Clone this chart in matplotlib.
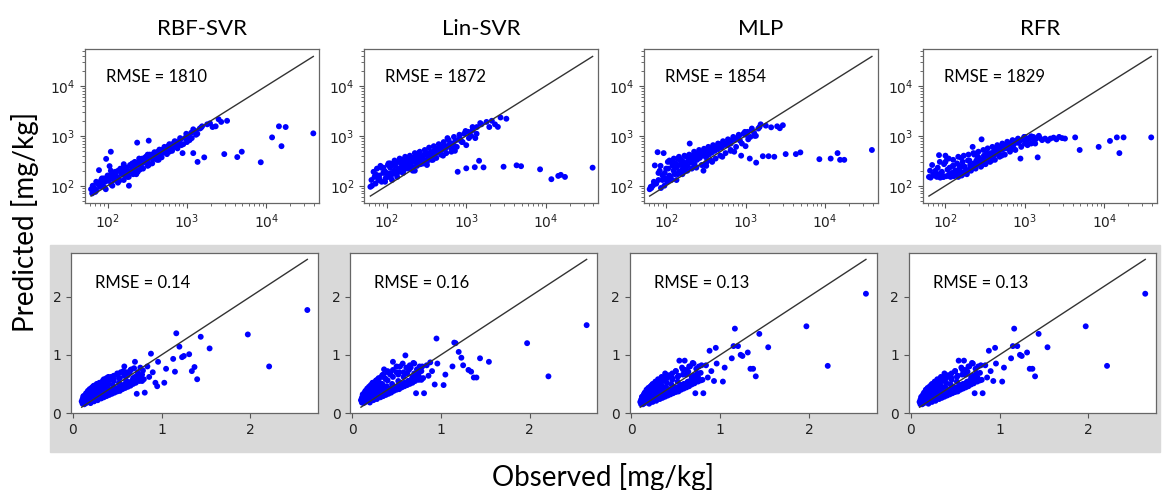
import matplotlib.pyplot as plt
from matplotlib.patches import Rectangle

models = ['RBF-SVR', 'Lin-SVR', 'MLP', 'RFR']
rmse_top = ['1810', '1872', '1854', '1829']
rmse_bot = ['0.14', '0.16', '0.13', '0.13']

# top row: observed vs predicted in mg/kg (log axes)
obs_top = [62, 65, 68, 72, 75, 78, 80, 83, 86, 90,
           93, 96, 100, 103, 106, 110, 113, 116, 120, 124,
           128, 132, 136, 140, 145, 150, 155, 160, 165, 170,
           175, 180, 186, 192, 198, 205, 212, 220, 228, 236,
           245, 255, 265, 275, 285, 295, 305, 318, 330, 345,
           360, 375, 390, 410, 430, 450, 470, 495, 520, 550,
           580, 610, 650, 690, 730, 780, 830, 880, 940, 1000,
           1060, 1130, 1200, 1280, 1360, 1450, 1550, 1650, 1800, 1950,
           2100, 2300, 2500, 2700, 2950, 3200, 4300, 4900, 8500, 11800,
           14400, 15500, 17500, 39000,
           70, 85, 95, 105, 115, 125, 135, 145, 160, 170,
           185, 195, 210, 225, 240, 260, 280, 300, 320, 340,
           365, 390, 420, 450, 480, 520, 560, 600, 650, 700,
           760, 820, 900, 980, 1080, 1200, 1350, 1500, 250, 150,
           64, 72, 80, 90, 100, 112, 125, 140, 158, 178,
           200, 225, 255, 290, 330, 380, 440, 510, 600, 720,
           850, 1000, 1150, 1300, 110, 160, 230, 320, 460, 650]
pred_top_rbf = [85, 100, 90, 120, 110, 205, 95, 130, 115, 140,
                120, 345, 150, 125, 247, 480, 140, 170, 130, 160,
                185, 150, 200, 130, 220, 170, 190, 240, 160, 210,
                230, 180, 100, 260, 200, 280, 230, 300, 210, 730,
                270, 320, 240, 350, 290, 330, 380, 300, 800, 360,
                420, 340, 440, 400, 480, 430, 520, 470, 560, 520,
                620, 560, 680, 640, 760, 700, 850, 450, 900, 1000,
                950, 1150, 450, 1250, 300, 1400, 1550, 370, 1700, 1780,
                1500, 1550, 2150, 1900, 430, 2000, 375, 480, 295, 930,
                1550, 620, 1500, 1120,
                75, 140, 85, 160, 100, 190, 115, 200, 130, 230,
                150, 250, 170, 290, 190, 330, 220, 370, 250, 420,
                280, 470, 330, 530, 370, 600, 430, 680, 500, 780,
                560, 900, 680, 1100, 820, 1350, 1100, 1450, 350, 210,
                70, 80, 115, 95, 160, 105, 180, 125, 210, 150,
                190, 260, 210, 310, 260, 420, 330, 460, 480, 600,
                650, 750, 900, 1050, 200, 270, 170, 420, 380, 560]
pred_top_lin = [95, 100, 190, 110, 220, 130, 160, 250, 120, 180,
                200, 140, 170, 260, 150, 230, 180, 130, 270, 200,
                250, 170, 300, 220, 190, 280, 240, 330, 210, 260,
                300, 230, 360, 250, 280, 330, 200, 370, 300, 290,
                400, 330, 270, 380, 350, 420, 320, 450, 380, 400,
                470, 410, 500, 440, 550, 480, 600, 520, 650, 560,
                900, 610, 700, 650, 800, 190, 900, 750, 1100, 223,
                1200, 1000, 1300, 235, 1500, 316, 1700, 233, 1900, 1500,
                2000, 1700, 1510, 2330, 240, 2200, 256, 246, 213, 135,
                157, 165, 150, 230,
                150, 230, 120, 280, 170, 320, 150, 350, 200, 380,
                220, 400, 240, 450, 250, 480, 280, 520, 300, 580,
                330, 620, 360, 680, 420, 750, 450, 820, 560, 950,
                600, 1050, 750, 1250, 900, 1500, 1100, 1800, 450, 330,
                130, 170, 140, 230, 180, 150, 260, 200, 300, 250,
                330, 200, 380, 280, 450, 330, 540, 400, 650, 500,
                800, 650, 1000, 900, 280, 180, 360, 260, 600, 480]
pred_top_mlp = [85, 90, 100, 255, 110, 470, 130, 200, 90, 160,
                450, 180, 140, 120, 220, 160, 300, 130, 250, 200,
                170, 280, 230, 350, 190, 260, 330, 210, 300, 240,
                280, 380, 250, 320, 700, 290, 400, 340, 270, 380,
                330, 420, 360, 480, 400, 200, 450, 370, 500, 420,
                520, 460, 560, 500, 600, 540, 680, 580, 640, 700,
                650, 760, 700, 850, 820, 900, 1000, 400, 1100, 1050,
                1200, 350, 1300, 1150, 290, 1400, 1700, 390, 1600, 390,
                1480, 380, 1550, 1420, 1630, 430, 430, 465, 340, 350,
                450, 330, 330, 520,
                120, 250, 100, 300, 140, 350, 130, 380, 170, 400,
                200, 420, 220, 480, 230, 520, 260, 550, 290, 600,
                320, 650, 350, 700, 400, 780, 450, 850, 520, 950,
                600, 1050, 700, 1200, 850, 1400, 1000, 1500, 450, 320,
                95, 110, 180, 130, 220, 150, 280, 170, 310, 200,
                370, 240, 420, 260, 480, 300, 560, 380, 650, 480,
                800, 620, 950, 1000, 320, 200, 420, 250, 580, 500]
pred_top_rfr = [150, 145, 260, 160, 200, 150, 170, 410, 145, 190,
                150, 270, 400, 155, 210, 160, 230, 150, 180, 250,
                155, 200, 170, 280, 150, 220, 190, 160, 300, 175,
                240, 200, 170, 320, 210, 260, 230, 600, 280, 250,
                320, 270, 360, 300, 850, 330, 400, 350, 380, 430,
                360, 450, 400, 500, 430, 560, 480, 600, 520, 650,
                560, 700, 620, 750, 680, 800, 720, 350, 850, 950,
                800, 900, 700, 950, 850, 370, 900, 820, 880, 800,
                880, 920, 850, 950, 900, 880, 930, 520, 600, 790,
                930, 450, 930, 930,
                170, 300, 150, 350, 160, 330, 165, 380, 170, 400,
                180, 420, 200, 450, 220, 480, 240, 520, 270, 560,
                300, 600, 330, 650, 380, 700, 420, 760, 480, 820,
                520, 880, 600, 950, 650, 980, 700, 1000, 450, 250,
                200, 170, 230, 180, 300, 170, 250, 200, 360, 190,
                320, 230, 380, 260, 440, 320, 520, 400, 620, 560,
                760, 700, 880, 850, 350, 240, 420, 300, 580, 520]

# bottom row: linear axes
obs_bot = [0.10, 0.11, 0.12, 0.12, 0.13, 0.14, 0.14, 0.15, 0.16, 0.16,
           0.17, 0.18, 0.18, 0.19, 0.20, 0.20, 0.21, 0.22, 0.22, 0.23,
           0.24, 0.25, 0.25, 0.26, 0.27, 0.28, 0.28, 0.29, 0.30, 0.31,
           0.32, 0.33, 0.34, 0.35, 0.36, 0.37, 0.38, 0.39, 0.40, 0.42,
           0.43, 0.45, 0.46, 0.48, 0.50, 0.52, 0.54, 0.56, 0.58, 0.60,
           0.62, 0.64, 0.66, 0.68, 0.70, 0.72, 0.74, 0.76, 0.78, 0.81,
           0.84, 0.88, 0.90, 0.93, 0.95, 0.96, 1.03, 1.05, 1.13, 1.15,
           1.165, 1.20, 1.23, 1.25, 1.31, 1.34, 1.37, 1.40, 1.44, 1.54,
           1.97, 2.21, 2.64,
           0.11, 0.12, 0.13, 0.14, 0.15, 0.15, 0.16, 0.17, 0.18, 0.19,
           0.20, 0.21, 0.22, 0.23, 0.24, 0.25, 0.26, 0.27, 0.28, 0.29,
           0.30, 0.31, 0.32, 0.33, 0.34, 0.35, 0.36, 0.37, 0.38, 0.40,
           0.41, 0.43, 0.44, 0.46, 0.48, 0.50, 0.52, 0.53, 0.55, 0.57,
           0.59, 0.61, 0.63, 0.65, 0.67, 0.69, 0.71, 0.73, 0.75, 0.79,
           0.20, 0.24, 0.28, 0.32, 0.35, 0.38, 0.41, 0.44, 0.47, 0.50,
           0.53, 0.56, 0.59, 0.62, 0.65, 0.68, 0.71, 0.75, 0.80, 0.86,
           0.26, 0.30, 0.34, 0.40, 0.46, 0.52, 0.58, 0.64, 0.70, 0.78]
pred_bot_rbf = [0.20, 0.24, 0.18, 0.28, 0.22, 0.30, 0.19, 0.25, 0.33, 0.21,
                0.27, 0.36, 0.22, 0.30, 0.40, 0.25, 0.33, 0.44, 0.28, 0.36,
                0.47, 0.30, 0.40, 0.26, 0.50, 0.35, 0.43, 0.30, 0.52, 0.38,
                0.46, 0.33, 0.56, 0.40, 0.50, 0.36, 0.60, 0.44, 0.55, 0.40,
                0.62, 0.48, 0.58, 0.42, 0.66, 0.52, 0.70, 0.47, 0.80, 0.56,
                0.65, 0.52, 0.75, 0.60, 0.88, 0.33, 0.66, 0.78, 0.55, 0.35,
                0.80, 1.02, 0.70, 0.52, 0.46, 0.88, 0.52, 0.76, 0.93, 0.71,
                1.37, 1.14, 0.96, 0.98, 1.01, 0.72, 0.79, 0.58, 1.31, 1.11,
                1.35, 0.80, 1.77,
                0.16, 0.29, 0.15, 0.31, 0.17, 0.34, 0.20, 0.38, 0.19, 0.41,
                0.21, 0.43, 0.23, 0.46, 0.24, 0.42, 0.27, 0.48, 0.26, 0.50,
                0.29, 0.47, 0.30, 0.53, 0.32, 0.58, 0.33, 0.55, 0.35, 0.62,
                0.38, 0.60, 0.40, 0.64, 0.43, 0.68, 0.44, 0.60, 0.48, 0.72,
                0.50, 0.70, 0.53, 0.74, 0.56, 0.77, 0.58, 0.70, 0.62, 0.73,
                0.17, 0.20, 0.22, 0.25, 0.27, 0.29, 0.31, 0.33, 0.35, 0.37,
                0.38, 0.41, 0.43, 0.45, 0.47, 0.50, 0.52, 0.55, 0.58, 0.62,
                0.36, 0.42, 0.45, 0.50, 0.55, 0.60, 0.64, 0.69, 0.62, 0.66]
pred_bot_lin = [0.22, 0.26, 0.20, 0.30, 0.24, 0.33, 0.21, 0.27, 0.36, 0.23,
                0.30, 0.40, 0.24, 0.33, 0.45, 0.27, 0.37, 0.48, 0.30, 0.40,
                0.52, 0.32, 0.44, 0.28, 0.56, 0.37, 0.47, 0.32, 0.60, 0.42,
                0.50, 0.35, 0.65, 0.43, 0.75, 0.38, 0.58, 0.46, 0.70, 0.42,
                0.66, 0.50, 0.88, 0.45, 0.70, 0.55, 0.80, 0.49, 0.62, 0.99,
                0.68, 0.55, 0.78, 0.62, 0.85, 0.34, 0.68, 0.80, 0.57, 0.34,
                0.82, 0.87, 0.72, 0.49, 1.28, 0.85, 0.48, 0.66, 0.80, 1.21,
                1.20, 1.05, 0.95, 0.82, 0.74, 0.71, 0.61, 0.61, 0.94, 0.88,
                1.20, 0.63, 1.51,
                0.18, 0.32, 0.17, 0.35, 0.19, 0.38, 0.22, 0.42, 0.21, 0.45,
                0.23, 0.48, 0.25, 0.52, 0.26, 0.47, 0.29, 0.55, 0.28, 0.58,
                0.31, 0.52, 0.32, 0.62, 0.34, 0.66, 0.36, 0.60, 0.38, 0.72,
                0.40, 0.68, 0.42, 0.74, 0.45, 0.80, 0.46, 0.70, 0.50, 0.85,
                0.52, 0.78, 0.55, 0.82, 0.58, 0.86, 0.60, 0.75, 0.64, 0.80,
                0.18, 0.22, 0.24, 0.27, 0.29, 0.31, 0.33, 0.35, 0.38, 0.40,
                0.41, 0.44, 0.46, 0.48, 0.50, 0.52, 0.55, 0.57, 0.60, 0.64,
                0.40, 0.46, 0.50, 0.56, 0.62, 0.66, 0.70, 0.74, 0.68, 0.72]
pred_bot_mlp = [0.19, 0.23, 0.17, 0.27, 0.21, 0.30, 0.18, 0.25, 0.34, 0.20,
                0.27, 0.38, 0.21, 0.31, 0.42, 0.24, 0.35, 0.46, 0.27, 0.38,
                0.50, 0.29, 0.42, 0.25, 0.54, 0.34, 0.45, 0.29, 0.58, 0.40,
                0.48, 0.33, 0.62, 0.41, 0.55, 0.36, 0.68, 0.45, 0.60, 0.40,
                0.65, 0.49, 0.60, 0.44, 0.72, 0.54, 0.90, 0.48, 0.75, 0.90,
                0.66, 0.54, 0.80, 0.62, 0.85, 0.34, 0.68, 0.80, 0.56, 0.34,
                0.82, 1.07, 0.72, 0.55, 1.12, 0.85, 0.54, 0.78, 0.94, 1.15,
                1.45, 1.15, 1.00, 0.98, 1.04, 0.76, 0.76, 0.63, 1.36, 1.13,
                1.49, 0.81, 2.05,
                0.15, 0.28, 0.15, 0.32, 0.17, 0.35, 0.19, 0.40, 0.19, 0.43,
                0.21, 0.45, 0.23, 0.48, 0.24, 0.44, 0.27, 0.51, 0.26, 0.53,
                0.29, 0.49, 0.30, 0.56, 0.32, 0.60, 0.33, 0.57, 0.35, 0.65,
                0.38, 0.63, 0.40, 0.68, 0.43, 0.72, 0.44, 0.64, 0.48, 0.78,
                0.50, 0.74, 0.53, 0.80, 0.56, 0.86, 0.58, 0.76, 0.62, 0.82,
                0.16, 0.19, 0.21, 0.24, 0.26, 0.28, 0.30, 0.32, 0.34, 0.36,
                0.37, 0.40, 0.42, 0.44, 0.46, 0.49, 0.51, 0.54, 0.57, 0.61,
                0.37, 0.43, 0.47, 0.52, 0.57, 0.62, 0.66, 0.71, 0.64, 0.69]
pred_bot_rfr = pred_bot_mlp  # same points in the picture

preds_top = [pred_top_rbf, pred_top_lin, pred_top_mlp, pred_top_rfr]
preds_bot = [pred_bot_rbf, pred_bot_lin, pred_bot_mlp, pred_bot_rfr]

W, H = 1162, 490
fig = plt.figure(figsize=(W / 100, H / 100), dpi=100)
fig.patches.append(Rectangle((50 / W, 1 - 452 / H), 1110 / W, 207 / H,
                             transform=fig.transFigure, color='#d9d9d9', zorder=-1))

def style(ax):
    for s in ax.spines.values():
        s.set_color('#666666')
        s.set_linewidth(0.9)
    ax.tick_params(which='both', direction='out', color='#555555', labelcolor='#222222', labelsize=10)
    ax.tick_params(which='major', length=3.5)
    ax.tick_params(which='minor', length=2)

for i in range(4):
    ax = fig.add_axes([(85 + 279.3 * i) / W, 1 - 203 / H, 234 / W, 154 / H])
    ax.scatter(obs_top, preds_top[i], s=18, c='blue', edgecolors='none', zorder=3)
    ax.plot([min(obs_top), max(obs_top)], [min(obs_top), max(obs_top)], color='#333333', lw=1, zorder=4)
    ax.set_xscale('log')
    ax.set_yscale('log')
    ax.set_xlim(52, 46000)
    ax.set_ylim(45, 55000)
    ax.text(0.09, 0.82, 'RMSE = ' + rmse_top[i], transform=ax.transAxes,
            fontsize=12, family='Lato', va='center')
    ax.set_title(models[i], fontsize=16, family='Lato', pad=10)
    style(ax)

for i in range(4):
    ax = fig.add_axes([(71 + 279.3 * i) / W, 1 - 413 / H, 247 / W, 160 / H])
    ax.scatter(obs_bot, preds_bot[i], s=18, c='blue', edgecolors='none', zorder=3)
    ax.plot([min(obs_bot), max(obs_bot)], [min(obs_bot), max(obs_bot)], color='#333333', lw=1, zorder=4)
    ax.set_xlim(-0.02, 2.76)
    ax.set_ylim(0, 2.75)
    ax.set_xticks([0, 1, 2])
    ax.set_yticks([0, 1, 2])
    ax.text(0.097, 0.81, 'RMSE = ' + rmse_bot[i], transform=ax.transAxes,
            fontsize=12, family='Lato', va='center')
    style(ax)

fig.text(25 / W, 1 - 222 / H, 'Predicted [mg/kg]', rotation=90, fontsize=20,
         family='Lato', ha='center', va='center')
fig.text(603 / W, 1 - 477 / H, 'Observed [mg/kg]', fontsize=20,
         family='Lato', ha='center', va='center')

plt.savefig('out.png', dpi=100)
